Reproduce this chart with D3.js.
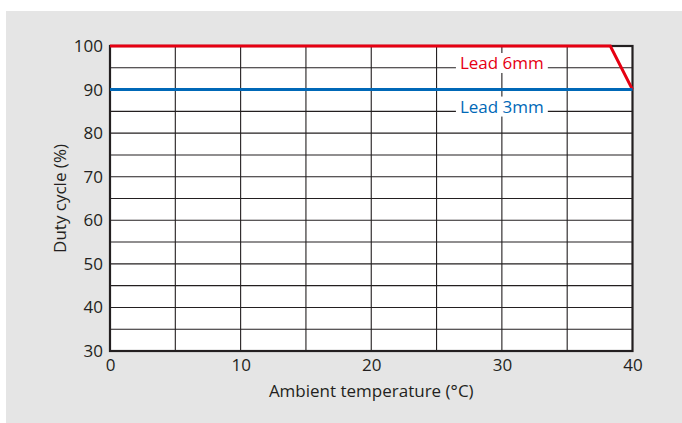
<!DOCTYPE html>
<html>
<head>
<meta charset="utf-8">
<script src="https://cdn.jsdelivr.net/npm/d3@7"></script>
<style>
  body { margin: 0; background: #fff; }
  svg { display: block; font-family: "Open Sans", "Noto Sans", sans-serif; }
</style>
</head>
<body>
<div id="chart"></div>
<script>
// data
const seriesNames = ["Lead 6mm", "Lead 3mm"];
const lead6Temp = [0, 38.3, 40];
const lead6Duty = [100, 100, 90];
const lead3Temp = [0, 40];
const lead3Duty = [90, 90];
const xTicks = [0, 10, 20, 30, 40];
const yTicks = [30, 40, 50, 60, 70, 80, 90, 100];
const labelTemp = [30, 30];
const labelDuty = [95, 85];

const width = 682, height = 423;
const margin = { left: 110, right: 49.5, top: 46, bottom: 72 };
const colors = ["#e60012", "#0068b7"];
const ink = "#231f20";
const fontSize = "17px";

const svg = d3.select("#chart").append("svg")
    .attr("width", width)
    .attr("height", height);

// gray panel
svg.append("rect")
    .attr("x", 6).attr("y", 11)
    .attr("width", width - 6).attr("height", height - 11)
    .attr("fill", "#e5e5e5");

const x = d3.scaleLinear().domain([0, 40]).range([margin.left, width - margin.right]);
const y = d3.scaleLinear().domain([30, 100]).range([height - margin.bottom, margin.top]);

// plot background
svg.append("rect")
    .attr("x", x(0)).attr("y", y(100))
    .attr("width", x(40) - x(0)).attr("height", y(30) - y(100))
    .attr("fill", "#fff");

// grid every 5
const grid = svg.append("g").attr("stroke", ink).attr("stroke-width", 1.1);
grid.selectAll("line.v")
    .data(d3.range(5, 40, 5))
    .join("line")
    .attr("x1", d => x(d)).attr("x2", d => x(d))
    .attr("y1", y(100)).attr("y2", y(30));
grid.selectAll("line.h")
    .data(d3.range(35, 100, 5))
    .join("line")
    .attr("y1", d => y(d)).attr("y2", d => y(d))
    .attr("x1", x(0)).attr("x2", x(40));

// frame
svg.append("rect")
    .attr("x", x(0)).attr("y", y(100))
    .attr("width", x(40) - x(0)).attr("height", y(30) - y(100))
    .attr("fill", "none").attr("stroke", ink).attr("stroke-width", 2.2);

// axes (labels only)
const xAxis = svg.append("g")
    .attr("transform", `translate(0,${y(30)})`)
    .call(d3.axisBottom(x).tickValues(xTicks).tickSize(0).tickPadding(8));
const yAxis = svg.append("g")
    .attr("transform", `translate(${x(0)},0)`)
    .call(d3.axisLeft(y).tickValues(yTicks).tickSize(0).tickPadding(7));
[xAxis, yAxis].forEach(a => {
    a.select(".domain").remove();
    a.selectAll("text")
        .attr("fill", ink)
        .style("font-size", fontSize)
        .style("font-family", "'Open Sans', 'Noto Sans', sans-serif");
});

// series lines
const line = d3.line().x(d => x(d[0])).y(d => y(d[1]));
const series = [
    d3.zip(lead6Temp, lead6Duty),
    d3.zip(lead3Temp, lead3Duty)
];
svg.selectAll("path.series")
    .data(series)
    .join("path")
    .attr("class", "series")
    .attr("d", line)
    .attr("fill", "none")
    .attr("stroke", (d, i) => colors[i])
    .attr("stroke-width", 3)
    .attr("stroke-linejoin", "miter");

// series labels with white backing to hide the grid
seriesNames.forEach((name, i) => {
    const g = svg.append("g")
        .attr("transform", `translate(${x(labelTemp[i])},${y(labelDuty[i]) + 1.2})`);
    const t = g.append("text")
        .attr("text-anchor", "middle")
        .attr("fill", colors[i])
        .style("font-size", fontSize)
        .text(name);
    const bb = t.node().getBBox();
    g.insert("rect", "text")
        .attr("x", bb.x - 4).attr("y", bb.y + 2)
        .attr("width", bb.width + 8).attr("height", bb.height - 3)
        .attr("fill", "#fff");
});

// axis titles
svg.append("text")
    .attr("x", (x(0) + x(40)) / 2)
    .attr("y", 397)
    .attr("text-anchor", "middle")
    .attr("fill", ink)
    .style("font-size", fontSize)
    .text("Ambient temperature (°C)");

svg.append("text")
    .attr("transform", `translate(66,${(y(30) + y(100)) / 2}) rotate(-90)`)
    .attr("text-anchor", "middle")
    .attr("fill", ink)
    .style("font-size", fontSize)
    .text("Duty cycle (%)");
</script>
</body>
</html>
